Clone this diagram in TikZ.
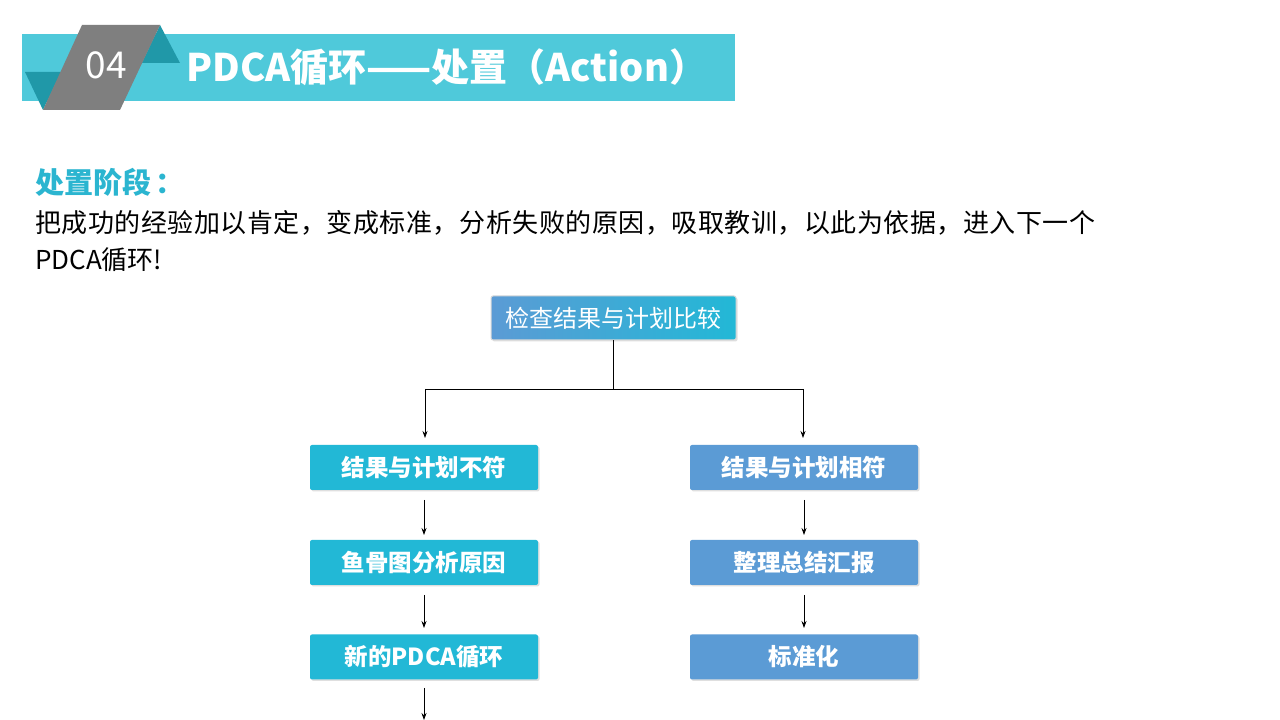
\documentclass[tikz,border=0pt]{standalone}
\usepackage{fontspec}
\setmainfont{Noto Sans CJK SC}
\usetikzlibrary{arrows.meta,shadows}
\definecolor{barcyan}{HTML}{4FC9DA}
\definecolor{darkteal}{HTML}{2098A8}
\definecolor{graypar}{HTML}{7F7F7F}
\definecolor{headcyan}{HTML}{2BB5D0}
\definecolor{leftbox}{HTML}{22B8D6}
\definecolor{rightbox}{HTML}{5B9BD5}
\begin{document}
\begin{tikzpicture}[x=1pt,y=1pt,
  flowbox/.style={rounded corners=2pt, minimum width=228pt, minimum height=45pt,
     text=white, font=\fontsize{23.5}{27}\selectfont\bfseries, inner sep=0pt,
     drop shadow={opacity=0.25, shadow xshift=1.5pt, shadow yshift=-1.5pt}},
  lbox/.style={flowbox, fill=leftbox},
  rbox/.style={flowbox, fill=rightbox},
  conn/.style={black, line width=0.8pt},
  arr/.style={conn, -{Stealth[length=7pt,width=5pt]}}]
\useasboundingbox (0,0) rectangle (1280,720);
\fill[white] (0,0) rectangle (1280,720);
% header
\fill[barcyan] (22,686) rectangle (735,619);
\fill[darkteal] (25,648) -- (61,648) -- (43,610) -- cycle;
\fill[darkteal] (160,695) -- (180,657) -- (142,657) -- cycle;
\fill[graypar] (82,695) -- (160,695) -- (120,610) -- (43,610) -- cycle;
\node[text=white, font=\fontsize{37}{40}\selectfont, inner sep=0pt] (num) at (106,655) {04};
\node[text=white, font=\fontsize{38}{42}\selectfont\bfseries, anchor=west, inner sep=0pt] (title) at (186,653) {PDCA循环——处置（Action）};
% text
\node[text=headcyan, font=\fontsize{29}{32}\selectfont\bfseries, anchor=west, inner sep=0pt] (head) at (35,538) {处置阶段\hspace{4pt}：};
\node[text=black, font=\fontsize{26}{30}\selectfont\addfontfeature{LetterSpace=2}, anchor=west, inner sep=0pt] (body1) at (35,497) {把成功的经验加以肯定，变成标准，分析失败的原因，吸取教训，以此为依据，进入下一个};
\node[text=black, font=\fontsize{26}{30}\selectfont, anchor=west, inner sep=0pt] (body2) at (35,460) {PDCA循环!};
% flowchart
\node[rounded corners=2pt, minimum width=245pt, minimum height=44pt, inner sep=0pt,
      left color=rightbox, right color=leftbox, draw=gray!30, line width=1pt,
      text=white, font=\fontsize{24}{27}\selectfont,
      drop shadow={opacity=0.25, shadow xshift=1.5pt, shadow yshift=-1.5pt}] (top) at (613.5,402) {检查结果与计划比较};
\node[lbox] (l1) at (424,252.5) {结果与计划不符};
\node[lbox] (l2) at (424,157.5) {鱼骨图分析原因};
\node[lbox] (l3) at (424,63) {新的PDCA循环};
\node[rbox] (r1) at (804,252.5) {结果与计划相符};
\node[rbox] (r2) at (804,157.5) {整理总结汇报};
\node[rbox] (r3) at (804,63) {标准化};
\coordinate (j) at (613,331);
\coordinate (jl) at (425,331);
\coordinate (jr) at (803,331);
\draw[conn] (top.south -| j) -- (j);
\draw[conn] (jl) -- (jr);
\draw[arr] (jl) -- (425,282);
\draw[arr] (jr) -- (803,282);
\coordinate (a1s) at (424,220); \coordinate (a1e) at (424,185);
\coordinate (a2s) at (424,125); \coordinate (a2e) at (424,92);
\coordinate (a3s) at (424,32); \coordinate (a3e) at (424,0);
\coordinate (b1s) at (804,220); \coordinate (b1e) at (804,185);
\coordinate (b2s) at (804,125); \coordinate (b2e) at (804,92);
\draw[arr] (a1s) -- (a1e);
\draw[arr] (a2s) -- (a2e);
\draw[arr] (a3s) -- (a3e);
\draw[arr] (b1s) -- (b1e);
\draw[arr] (b2s) -- (b2e);
\end{tikzpicture}
\end{document}
